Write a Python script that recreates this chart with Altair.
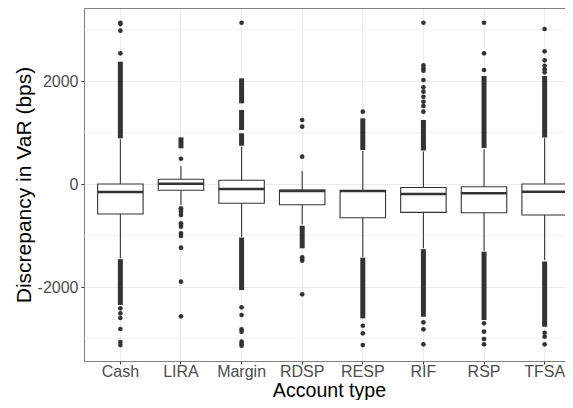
import altair as alt
import pandas as pd

categories = ["Cash", "LIRA", "Margin", "RDSP", "RESP", "RIF", "RSP", "TFSA"]
q1 = [-583, -122, -375, -402, -654, -550, -557, -602]
median = [-155, 6, -97, -135, -135, -194, -180, -150]
q3 = [0, 91, 72, -117, -125, -68, -52, 0]
whisker_low = [-1443, -408, -1023, -783, -1412, -1249, -1295, -1476]
whisker_high = [870, 350, 724, 252, 641, 630, 674, 887]

# isolated outliers per category
out_cash = [3132, 3105, 2977, 2538, -2414, -2512, -2602, -2816, -3068, -3127]
out_lira = [491, -472, -505, -538, -602, -763, -796, -829, -957, -1010, -1237, -1897, -2569]
out_margin = [3132, -2395, -2544, -2822, -2868, -3062, -3100, -3140]
out_rdsp = [530, 1113, 1243, -1424, -1457, -1490, -2142]
out_resp = [1404, -2752, -2900, -3127]
out_rif = [1404, 1515, 1598, 1695, 1793, 1877, 2020, 2200, 2250, 2305, 3132,
           -2686, -2822, -3113]
out_rsp = [2214, 2538, 3132, -2705, -2868, -3010, -3113]
out_tfsa = [2169, 2230, 2297, 2402, 2577, 3010, -2888, -2965, -3113]
outlier_lists = [out_cash, out_lira, out_margin, out_rdsp, out_resp, out_rif, out_rsp, out_tfsa]

# dense runs of overlapping outliers (category, from, to)
run_cat = ["Cash", "Cash", "LIRA", "Margin", "Margin", "Margin", "Margin", "RDSP",
           "RESP", "RESP", "RIF", "RIF", "RSP", "RSP", "TFSA", "TFSA"]
run_from = [887, -1460, 693, 744, 1049, 1567, -1040, -810,
            660, -1430, 650, -1265, 700, -1314, 903, -1505]
run_to = [2375, -2350, 906, 985, 1437, 2052, -2059, -1249,
          1276, -2609, 1243, -2577, 2097, -2641, 2097, -2771]

y_ticks = [-2000, 0, 2000]
minor_grid = [-3000, -1000, 1000, 3000]
y_domain = [-3437, 3418]

boxes = pd.DataFrame({"cat": categories, "q1": q1, "med": median, "q3": q3,
                      "lo": whisker_low, "hi": whisker_high})
outliers = pd.DataFrame([{"cat": c, "val": v}
                         for c, vals in zip(categories, outlier_lists) for v in vals])
runs = pd.DataFrame({"cat": run_cat, "a": run_from, "b": run_to})
minor = pd.DataFrame({"v": minor_grid})

FONT = "Liberation Sans"
DARK = "#333333"
BORDER = "#7F7F7F"

# band range extends past the visible (cropped) right edge, as in the reference
xscale = alt.Scale(type="band", domain=categories, paddingInner=0, paddingOuter=0.1,
                   range=[0, 497])
xaxis = alt.Axis(title="Account type", titleFont=FONT, titleFontSize=19.6,
                 titleFontWeight="normal", titleColor="black",
                 titleX=245, titleY=35.5, titleBaseline="alphabetic", titleAnchor="middle",
                 labelFont=FONT, labelFontSize=16, labelColor="#4D4D4D", labelAngle=0,
                 labelPadding=-1, tickColor=DARK, tickSize=3,
                 domain=True, domainColor=BORDER, domainWidth=1,
                 grid=True, gridColor="#EBEBEB", gridWidth=1.1, bandPosition=0.5)
xaxis_top = alt.Axis(orient="top", title=None, labels=False, ticks=False, grid=False,
                     domain=True, domainColor=BORDER, domainWidth=1)
yscale = alt.Scale(domain=y_domain, nice=False, zero=False)
yaxis = alt.Axis(title="Discrepancy in VaR (bps)", titleFont=FONT, titleFontSize=21,
                 titleFontWeight="normal", titleColor="black", titlePadding=3,
                 labelFont=FONT, labelFontSize=16, labelColor="#4D4D4D",
                 labelExpr="'' + datum.value",
                 labelPadding=3, tickColor=DARK, tickSize=3,
                 domain=True, domainColor=BORDER, domainWidth=1,
                 values=y_ticks, grid=True, gridColor="#EBEBEB", gridWidth=1.1)

X = alt.X("cat:N", scale=xscale, axis=None, sort=categories)
Y = lambda f: alt.Y(f, scale=yscale, axis=yaxis)

minor_layer = alt.Chart(minor).mark_rule(color="#EBEBEB", strokeWidth=0.6).encode(y=Y("v:Q"))

whisk_lo = alt.Chart(boxes).mark_rule(color=DARK, strokeWidth=1.1).encode(
    x=X, y=Y("lo:Q"), y2="q1:Q")
whisk_hi = alt.Chart(boxes).mark_rule(color=DARK, strokeWidth=1.1).encode(
    x=X, y=Y("q3:Q"), y2="hi:Q")

box = alt.Chart(boxes).mark_bar(
    fill="white", stroke=DARK, strokeWidth=1.1,
    width=alt.RelativeBandSize(0.75)).encode(
    x=alt.X("cat:N", scale=xscale, axis=xaxis, sort=categories),
    y=Y("q1:Q"), y2="q3:Q")

med = alt.Chart(boxes).mark_tick(color=DARK, thickness=2.4, size=45.5, opacity=1).encode(
    x=X, y=Y("med:Q"))

run_layer = alt.Chart(runs).mark_rule(color=DARK, strokeWidth=5).encode(
    x=X, y=Y("a:Q"), y2="b:Q")

pts = alt.Chart(outliers).mark_circle(color=DARK, size=22, opacity=1).encode(
    x=alt.X("cat:N", scale=xscale, axis=xaxis_top, sort=categories), y=Y("val:Q"))

chart = alt.layer(minor_layer, whisk_lo, whisk_hi, box, med, run_layer, pts).resolve_axis(
    x="independent").properties(
    width=481, height=353,
    autosize=alt.AutoSizeParams(type="none"),
    padding={"left": 76, "top": 0, "right": 0, "bottom": 39},
).configure_view(stroke=None).configure(background="white")

chart.save("out.html", embed_options={"renderer": "svg", "actions": False})
